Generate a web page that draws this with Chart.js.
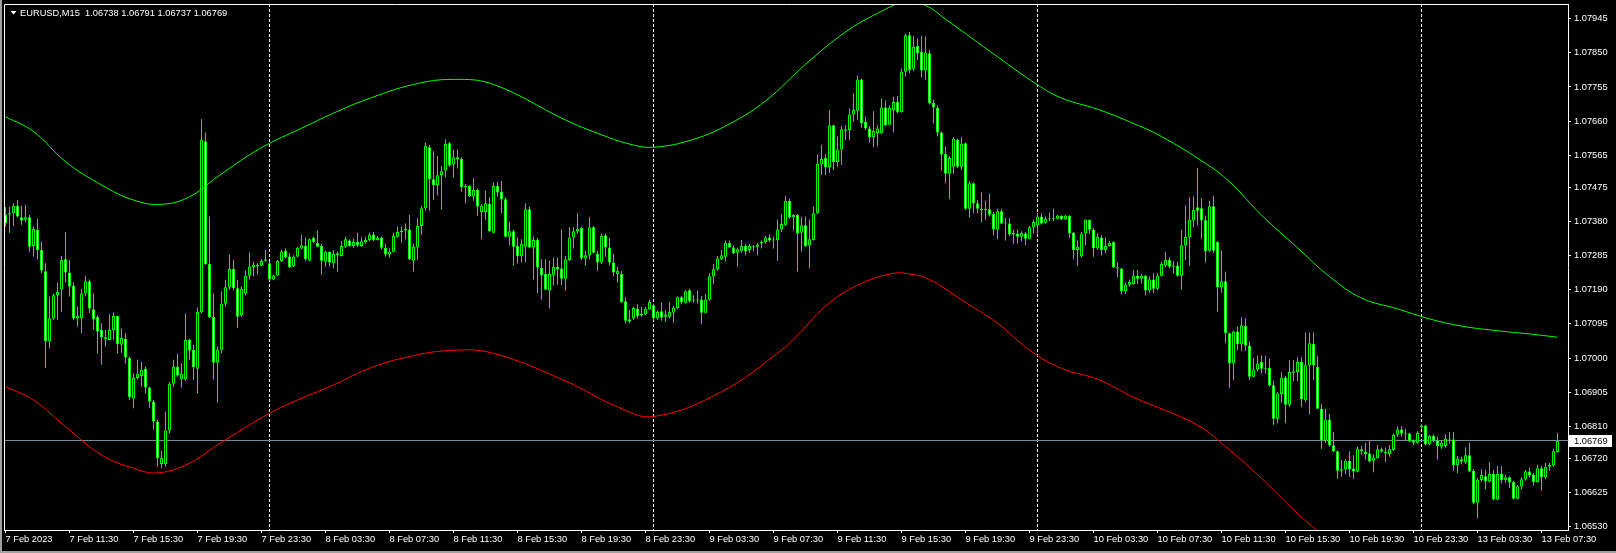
<!DOCTYPE html>
<html>
<head>
<meta charset="utf-8">
<title>EURUSD,M15</title>
<script src="https://cdn.jsdelivr.net/npm/chart.js@4.4.1/dist/chart.umd.min.js"></script>
<style>
  html, body { margin: 0; padding: 0; background: #000; }
  canvas { display: block; }
</style>
</head>
<body>
<canvas id="chart" width="1616" height="553"></canvas>
<script>
// EURUSD M15 candles, bar 0 = 7 Feb 2023 07:30 ... bar 388 = 13 Feb 08:30
const opens = [
  1.07400, 1.07400, 1.07403, 1.07424, 1.07392, 1.07385, 1.07392, 1.07312, 1.07357, 1.07301,
  1.07242, 1.07047, 1.07110, 1.07175, 1.07191, 1.07275, 1.07238, 1.07201, 1.07110, 1.07111,
  1.07180, 1.07214, 1.07136, 1.07114, 1.07078, 1.07058, 1.07050, 1.07078, 1.07117, 1.07037,
  1.07054, 1.07000, 1.06887, 1.06944, 1.06950, 1.06970, 1.06918, 1.06879, 1.06823, 1.06705,
  1.06705, 1.06798, 1.06928, 1.06976, 1.06941, 1.06941, 1.07050, 1.07023, 1.06970, 1.07128,
  1.07604, 1.07262, 1.07114, 1.06987, 1.07023, 1.07151, 1.07197, 1.07248, 1.07194, 1.07119,
  1.07180, 1.07229, 1.07253, 1.07255, 1.07257, 1.07271, 1.07264, 1.07219, 1.07230, 1.07270,
  1.07299, 1.07283, 1.07255, 1.07283, 1.07305, 1.07312, 1.07271, 1.07334, 1.07320, 1.07312,
  1.07268, 1.07296, 1.07264, 1.07286, 1.07284, 1.07310, 1.07327, 1.07312, 1.07323, 1.07312,
  1.07322, 1.07329, 1.07344, 1.07329, 1.07336, 1.07307, 1.07288, 1.07296, 1.07338, 1.07351,
  1.07355, 1.07358, 1.07271, 1.07308, 1.07368, 1.07417, 1.07587, 1.07498, 1.07481, 1.07509,
  1.07522, 1.07598, 1.07539, 1.07559, 1.07554, 1.07479, 1.07479, 1.07450, 1.07468, 1.07407,
  1.07407, 1.07429, 1.07349, 1.07479, 1.07463, 1.07442, 1.07338, 1.07353, 1.07312, 1.07284,
  1.07310, 1.07414, 1.07308, 1.07329, 1.07251, 1.07234, 1.07188, 1.07230, 1.07254, 1.07249,
  1.07221, 1.07273, 1.07336, 1.07353, 1.07362, 1.07277, 1.07286, 1.07364, 1.07290, 1.07266,
  1.07342, 1.07308, 1.07266, 1.07234, 1.07234, 1.07158, 1.07108, 1.07110, 1.07137, 1.07119,
  1.07121, 1.07136, 1.07147, 1.07111, 1.07130, 1.07115, 1.07115, 1.07126, 1.07139, 1.07169,
  1.07154, 1.07189, 1.07160, 1.07163, 1.07162, 1.07126, 1.07162, 1.07227, 1.07247, 1.07275,
  1.07282, 1.07320, 1.07308, 1.07293, 1.07299, 1.07312, 1.07301, 1.07310, 1.07310, 1.07320,
  1.07323, 1.07336, 1.07327, 1.07329, 1.07358, 1.07371, 1.07438, 1.07392, 1.07398, 1.07349,
  1.07370, 1.07314, 1.07329, 1.07403, 1.07539, 1.07557, 1.07531, 1.07648, 1.07546, 1.07581,
  1.07633, 1.07635, 1.07678, 1.07689, 1.07776, 1.07658, 1.07639, 1.07615, 1.07626, 1.07626,
  1.07698, 1.07650, 1.07691, 1.07713, 1.07685, 1.07797, 1.07899, 1.07806, 1.07869, 1.07853,
  1.07801, 1.07849, 1.07710, 1.07697, 1.07628, 1.07568, 1.07513, 1.07533, 1.07607, 1.07533,
  1.07598, 1.07416, 1.07487, 1.07431, 1.07416, 1.07412, 1.07414, 1.07401, 1.07358, 1.07409,
  1.07375, 1.07375, 1.07344, 1.07347, 1.07338, 1.07347, 1.07332, 1.07364, 1.07370, 1.07394,
  1.07377, 1.07386, 1.07388, 1.07388, 1.07396, 1.07386, 1.07396, 1.07349, 1.07301, 1.07284,
  1.07347, 1.07385, 1.07357, 1.07306, 1.07336, 1.07301, 1.07312, 1.07323, 1.07253, 1.07249,
  1.07186, 1.07204, 1.07206, 1.07229, 1.07221, 1.07229, 1.07188, 1.07219, 1.07193, 1.07229,
  1.07258, 1.07273, 1.07254, 1.07258, 1.07229, 1.07314, 1.07336, 1.07383, 1.07420, 1.07417,
  1.07384, 1.07299, 1.07423, 1.07323, 1.07197, 1.07214, 1.07069, 1.06985, 1.07074, 1.07039,
  1.07089, 1.07035, 1.06948, 1.06968, 1.06989, 1.06972, 1.06972, 1.06924, 1.06831, 1.06900,
  1.06946, 1.06870, 1.06959, 1.06961, 1.06989, 1.06883, 1.06980, 1.07039, 1.06976, 1.06859,
  1.06770, 1.06829, 1.06757, 1.06740, 1.06690, 1.06690, 1.06714, 1.06692, 1.06684, 1.06746,
  1.06738, 1.06734, 1.06714, 1.06721, 1.06746, 1.06738, 1.06733, 1.06744, 1.06786, 1.06801,
  1.06790, 1.06790, 1.06770, 1.06764, 1.06807, 1.06812, 1.06760, 1.06783, 1.06770, 1.06753,
  1.06755, 1.06775, 1.06773, 1.06701, 1.06718, 1.06710, 1.06729, 1.06686, 1.06597, 1.06660,
  1.06671, 1.06656, 1.06677, 1.06606, 1.06677, 1.06660, 1.06668, 1.06655, 1.06608, 1.06642,
  1.06662, 1.06684, 1.06675, 1.06655, 1.06693, 1.06668, 1.06697, 1.06701, 1.06738
];
const highs = [
  1.07420, 1.07422, 1.07431, 1.07440, 1.07424, 1.07426, 1.07398, 1.07366, 1.07388, 1.07324,
  1.07264, 1.07171, 1.07180, 1.07210, 1.07284, 1.07351, 1.07273, 1.07210, 1.07143, 1.07193,
  1.07229, 1.07219, 1.07180, 1.07119, 1.07097, 1.07078, 1.07122, 1.07127, 1.07117, 1.07082,
  1.07069, 1.07004, 1.06957, 1.06995, 1.06989, 1.06976, 1.06920, 1.06883, 1.06828, 1.06742,
  1.06851, 1.06933, 1.06995, 1.07011, 1.06985, 1.07123, 1.07054, 1.07036, 1.07141, 1.07665,
  1.07628, 1.07394, 1.07180, 1.07032, 1.07186, 1.07218, 1.07288, 1.07273, 1.07218, 1.07199,
  1.07244, 1.07294, 1.07268, 1.07264, 1.07275, 1.07301, 1.07268, 1.07232, 1.07273, 1.07301,
  1.07306, 1.07292, 1.07286, 1.07310, 1.07343, 1.07336, 1.07333, 1.07338, 1.07355, 1.07318,
  1.07299, 1.07297, 1.07301, 1.07297, 1.07325, 1.07338, 1.07331, 1.07333, 1.07349, 1.07336,
  1.07338, 1.07349, 1.07351, 1.07340, 1.07338, 1.07318, 1.07305, 1.07349, 1.07366, 1.07366,
  1.07375, 1.07398, 1.07318, 1.07389, 1.07424, 1.07600, 1.07593, 1.07576, 1.07563, 1.07535,
  1.07609, 1.07602, 1.07580, 1.07581, 1.07559, 1.07485, 1.07481, 1.07501, 1.07472, 1.07429,
  1.07466, 1.07448, 1.07489, 1.07490, 1.07493, 1.07448, 1.07379, 1.07358, 1.07336, 1.07331,
  1.07431, 1.07422, 1.07338, 1.07334, 1.07275, 1.07275, 1.07271, 1.07280, 1.07280, 1.07358,
  1.07284, 1.07364, 1.07364, 1.07403, 1.07366, 1.07299, 1.07392, 1.07368, 1.07299, 1.07347,
  1.07347, 1.07334, 1.07290, 1.07254, 1.07243, 1.07169, 1.07134, 1.07143, 1.07150, 1.07143,
  1.07143, 1.07162, 1.07150, 1.07132, 1.07154, 1.07134, 1.07156, 1.07145, 1.07171, 1.07173,
  1.07189, 1.07193, 1.07175, 1.07188, 1.07173, 1.07178, 1.07236, 1.07262, 1.07284, 1.07301,
  1.07327, 1.07327, 1.07314, 1.07308, 1.07329, 1.07318, 1.07318, 1.07314, 1.07320, 1.07327,
  1.07340, 1.07345, 1.07338, 1.07386, 1.07401, 1.07451, 1.07444, 1.07401, 1.07401, 1.07392,
  1.07394, 1.07385, 1.07422, 1.07566, 1.07594, 1.07568, 1.07691, 1.07650, 1.07617, 1.07646,
  1.07648, 1.07695, 1.07737, 1.07786, 1.07778, 1.07672, 1.07646, 1.07687, 1.07648, 1.07723,
  1.07717, 1.07704, 1.07728, 1.07730, 1.07806, 1.07903, 1.07908, 1.07897, 1.07890, 1.07897,
  1.07895, 1.07858, 1.07719, 1.07704, 1.07630, 1.07589, 1.07561, 1.07615, 1.07611, 1.07615,
  1.07600, 1.07492, 1.07489, 1.07440, 1.07461, 1.07437, 1.07457, 1.07407, 1.07416, 1.07416,
  1.07390, 1.07390, 1.07357, 1.07358, 1.07353, 1.07351, 1.07368, 1.07385, 1.07403, 1.07403,
  1.07394, 1.07405, 1.07416, 1.07399, 1.07397, 1.07399, 1.07397, 1.07351, 1.07327, 1.07351,
  1.07386, 1.07386, 1.07362, 1.07347, 1.07342, 1.07336, 1.07325, 1.07325, 1.07266, 1.07251,
  1.07210, 1.07219, 1.07245, 1.07245, 1.07234, 1.07232, 1.07227, 1.07236, 1.07236, 1.07268,
  1.07295, 1.07280, 1.07269, 1.07269, 1.07357, 1.07425, 1.07448, 1.07450, 1.07529, 1.07445,
  1.07396, 1.07438, 1.07451, 1.07325, 1.07299, 1.07240, 1.07071, 1.07076, 1.07087, 1.07113,
  1.07110, 1.07046, 1.07000, 1.07007, 1.07007, 1.07006, 1.06998, 1.06937, 1.06905, 1.06961,
  1.06950, 1.06994, 1.06994, 1.07002, 1.07002, 1.07072, 1.07071, 1.07071, 1.07006, 1.06872,
  1.06859, 1.06844, 1.06794, 1.06742, 1.06716, 1.06718, 1.06740, 1.06729, 1.06753, 1.06755,
  1.06764, 1.06770, 1.06731, 1.06757, 1.06751, 1.06751, 1.06757, 1.06790, 1.06809, 1.06810,
  1.06803, 1.06792, 1.06773, 1.06796, 1.06816, 1.06814, 1.06785, 1.06786, 1.06781, 1.06771,
  1.06788, 1.06794, 1.06794, 1.06727, 1.06725, 1.06751, 1.06764, 1.06690, 1.06666, 1.06690,
  1.06688, 1.06710, 1.06688, 1.06699, 1.06699, 1.06675, 1.06671, 1.06658, 1.06647, 1.06668,
  1.06688, 1.06695, 1.06680, 1.06703, 1.06699, 1.06708, 1.06708, 1.06747, 1.06791
];
const lows = [
  1.07366, 1.07349, 1.07368, 1.07392, 1.07371, 1.07379, 1.07296, 1.07283, 1.07275, 1.07236,
  1.06973, 1.07027, 1.07106, 1.07106, 1.07128, 1.07210, 1.07171, 1.07106, 1.07088, 1.07069,
  1.07171, 1.07125, 1.07078, 1.07013, 1.06981, 1.07032, 1.07050, 1.07050, 1.07013, 1.07015,
  1.06985, 1.06883, 1.06860, 1.06941, 1.06920, 1.06902, 1.06860, 1.06800, 1.06697, 1.06693,
  1.06697, 1.06790, 1.06920, 1.06948, 1.06918, 1.06937, 1.06995, 1.06939, 1.06902, 1.07125,
  1.07260, 1.07112, 1.06941, 1.06876, 1.07013, 1.07143, 1.07191, 1.07188, 1.07084, 1.07115,
  1.07175, 1.07219, 1.07227, 1.07232, 1.07257, 1.07268, 1.07218, 1.07218, 1.07229, 1.07268,
  1.07277, 1.07251, 1.07253, 1.07281, 1.07303, 1.07271, 1.07270, 1.07320, 1.07310, 1.07232,
  1.07255, 1.07255, 1.07250, 1.07240, 1.07283, 1.07307, 1.07310, 1.07307, 1.07309, 1.07310,
  1.07318, 1.07325, 1.07325, 1.07327, 1.07303, 1.07283, 1.07281, 1.07294, 1.07336, 1.07321,
  1.07331, 1.07273, 1.07241, 1.07273, 1.07343, 1.07410, 1.07410, 1.07440, 1.07454, 1.07414,
  1.07503, 1.07533, 1.07503, 1.07528, 1.07463, 1.07431, 1.07448, 1.07438, 1.07396, 1.07331,
  1.07385, 1.07351, 1.07347, 1.07450, 1.07403, 1.07336, 1.07314, 1.07258, 1.07264, 1.07266,
  1.07266, 1.07306, 1.07219, 1.07180, 1.07163, 1.07189, 1.07138, 1.07202, 1.07204, 1.07202,
  1.07188, 1.07271, 1.07305, 1.07347, 1.07273, 1.07258, 1.07275, 1.07292, 1.07243, 1.07262,
  1.07282, 1.07258, 1.07228, 1.07210, 1.07154, 1.07097, 1.07097, 1.07106, 1.07110, 1.07115,
  1.07119, 1.07134, 1.07106, 1.07106, 1.07104, 1.07101, 1.07111, 1.07098, 1.07137, 1.07150,
  1.07152, 1.07154, 1.07154, 1.07152, 1.07095, 1.07124, 1.07160, 1.07206, 1.07243, 1.07273,
  1.07269, 1.07307, 1.07290, 1.07254, 1.07293, 1.07286, 1.07293, 1.07297, 1.07286, 1.07305,
  1.07318, 1.07323, 1.07305, 1.07271, 1.07351, 1.07368, 1.07388, 1.07355, 1.07241, 1.07297,
  1.07310, 1.07250, 1.07327, 1.07401, 1.07510, 1.07510, 1.07515, 1.07524, 1.07533, 1.07538,
  1.07607, 1.07607, 1.07658, 1.07663, 1.07641, 1.07635, 1.07600, 1.07587, 1.07590, 1.07624,
  1.07646, 1.07648, 1.07628, 1.07682, 1.07684, 1.07784, 1.07793, 1.07799, 1.07830, 1.07782,
  1.07775, 1.07706, 1.07654, 1.07617, 1.07522, 1.07489, 1.07442, 1.07513, 1.07529, 1.07524,
  1.07412, 1.07392, 1.07403, 1.07403, 1.07379, 1.07385, 1.07394, 1.07342, 1.07331, 1.07373,
  1.07327, 1.07340, 1.07318, 1.07319, 1.07325, 1.07314, 1.07331, 1.07347, 1.07347, 1.07372,
  1.07375, 1.07381, 1.07381, 1.07386, 1.07385, 1.07385, 1.07334, 1.07275, 1.07256, 1.07280,
  1.07314, 1.07347, 1.07282, 1.07301, 1.07286, 1.07292, 1.07310, 1.07251, 1.07225, 1.07178,
  1.07178, 1.07199, 1.07204, 1.07206, 1.07208, 1.07175, 1.07182, 1.07182, 1.07189, 1.07227,
  1.07253, 1.07249, 1.07236, 1.07227, 1.07191, 1.07273, 1.07256, 1.07364, 1.07370, 1.07332,
  1.07266, 1.07295, 1.07292, 1.07129, 1.07182, 1.07041, 1.06917, 1.06939, 1.07022, 1.07020,
  1.07020, 1.06939, 1.06946, 1.06963, 1.06957, 1.06957, 1.06920, 1.06814, 1.06818, 1.06876,
  1.06818, 1.06864, 1.06935, 1.06935, 1.06863, 1.06877, 1.06844, 1.06939, 1.06859, 1.06747,
  1.06764, 1.06753, 1.06738, 1.06664, 1.06669, 1.06677, 1.06669, 1.06664, 1.06682, 1.06731,
  1.06718, 1.06710, 1.06682, 1.06720, 1.06736, 1.06710, 1.06725, 1.06742, 1.06781, 1.06781,
  1.06771, 1.06766, 1.06757, 1.06762, 1.06803, 1.06757, 1.06757, 1.06766, 1.06718, 1.06747,
  1.06751, 1.06762, 1.06686, 1.06680, 1.06705, 1.06705, 1.06682, 1.06593, 1.06554, 1.06655,
  1.06634, 1.06653, 1.06604, 1.06604, 1.06651, 1.06653, 1.06638, 1.06606, 1.06606, 1.06634,
  1.06658, 1.06668, 1.06645, 1.06653, 1.06630, 1.06662, 1.06686, 1.06697, 1.06737
];
const closes = [
  1.07375, 1.07403, 1.07424, 1.07394, 1.07383, 1.07392, 1.07310, 1.07359, 1.07301, 1.07244,
  1.07047, 1.07111, 1.07175, 1.07184, 1.07273, 1.07238, 1.07199, 1.07110, 1.07117, 1.07180,
  1.07214, 1.07138, 1.07108, 1.07074, 1.07058, 1.07052, 1.07078, 1.07117, 1.07039, 1.07056,
  1.07002, 1.06891, 1.06944, 1.06956, 1.06967, 1.06918, 1.06879, 1.06823, 1.06721, 1.06722,
  1.06798, 1.06928, 1.06976, 1.06952, 1.06956, 1.07050, 1.07021, 1.06974, 1.07128, 1.07608,
  1.07262, 1.07114, 1.06987, 1.07023, 1.07151, 1.07197, 1.07248, 1.07194, 1.07115, 1.07193,
  1.07229, 1.07255, 1.07260, 1.07260, 1.07270, 1.07275, 1.07219, 1.07230, 1.07270, 1.07297,
  1.07281, 1.07253, 1.07283, 1.07307, 1.07314, 1.07275, 1.07331, 1.07323, 1.07310, 1.07271,
  1.07296, 1.07266, 1.07290, 1.07292, 1.07312, 1.07331, 1.07312, 1.07323, 1.07314, 1.07325,
  1.07329, 1.07344, 1.07329, 1.07336, 1.07307, 1.07288, 1.07296, 1.07340, 1.07351, 1.07355,
  1.07360, 1.07275, 1.07310, 1.07368, 1.07417, 1.07591, 1.07498, 1.07481, 1.07509, 1.07520,
  1.07596, 1.07537, 1.07559, 1.07554, 1.07476, 1.07476, 1.07451, 1.07468, 1.07422, 1.07424,
  1.07431, 1.07353, 1.07479, 1.07461, 1.07442, 1.07338, 1.07353, 1.07310, 1.07284, 1.07318,
  1.07414, 1.07308, 1.07329, 1.07253, 1.07230, 1.07191, 1.07234, 1.07254, 1.07247, 1.07221,
  1.07275, 1.07336, 1.07353, 1.07360, 1.07277, 1.07286, 1.07364, 1.07293, 1.07266, 1.07340,
  1.07308, 1.07266, 1.07238, 1.07243, 1.07156, 1.07104, 1.07102, 1.07139, 1.07117, 1.07123,
  1.07137, 1.07156, 1.07111, 1.07128, 1.07113, 1.07121, 1.07128, 1.07141, 1.07169, 1.07156,
  1.07186, 1.07158, 1.07163, 1.07160, 1.07126, 1.07163, 1.07228, 1.07247, 1.07277, 1.07286,
  1.07321, 1.07308, 1.07292, 1.07303, 1.07312, 1.07297, 1.07312, 1.07312, 1.07316, 1.07323,
  1.07336, 1.07327, 1.07329, 1.07358, 1.07373, 1.07438, 1.07392, 1.07398, 1.07347, 1.07370,
  1.07312, 1.07331, 1.07403, 1.07541, 1.07554, 1.07531, 1.07648, 1.07546, 1.07581, 1.07637,
  1.07637, 1.07678, 1.07691, 1.07776, 1.07654, 1.07639, 1.07615, 1.07632, 1.07639, 1.07698,
  1.07648, 1.07697, 1.07713, 1.07685, 1.07797, 1.07899, 1.07802, 1.07867, 1.07849, 1.07801,
  1.07851, 1.07710, 1.07698, 1.07628, 1.07567, 1.07513, 1.07557, 1.07611, 1.07533, 1.07596,
  1.07416, 1.07487, 1.07431, 1.07416, 1.07412, 1.07416, 1.07399, 1.07358, 1.07409, 1.07375,
  1.07377, 1.07344, 1.07349, 1.07338, 1.07349, 1.07332, 1.07364, 1.07379, 1.07394, 1.07375,
  1.07388, 1.07388, 1.07390, 1.07397, 1.07386, 1.07396, 1.07347, 1.07301, 1.07310, 1.07347,
  1.07385, 1.07357, 1.07306, 1.07338, 1.07301, 1.07312, 1.07321, 1.07253, 1.07249, 1.07186,
  1.07204, 1.07212, 1.07229, 1.07221, 1.07229, 1.07188, 1.07219, 1.07193, 1.07229, 1.07262,
  1.07273, 1.07254, 1.07258, 1.07229, 1.07314, 1.07338, 1.07385, 1.07412, 1.07410, 1.07383,
  1.07297, 1.07423, 1.07299, 1.07197, 1.07214, 1.07069, 1.06985, 1.07074, 1.07039, 1.07091,
  1.07035, 1.06948, 1.06968, 1.06985, 1.06970, 1.06970, 1.06924, 1.06831, 1.06901, 1.06946,
  1.06870, 1.06961, 1.06963, 1.06989, 1.06885, 1.06980, 1.07041, 1.06980, 1.06859, 1.06771,
  1.06829, 1.06757, 1.06740, 1.06686, 1.06686, 1.06714, 1.06690, 1.06684, 1.06747, 1.06740,
  1.06733, 1.06712, 1.06723, 1.06746, 1.06740, 1.06734, 1.06746, 1.06786, 1.06801, 1.06790,
  1.06788, 1.06768, 1.06764, 1.06792, 1.06812, 1.06760, 1.06783, 1.06771, 1.06755, 1.06764,
  1.06775, 1.06773, 1.06701, 1.06720, 1.06712, 1.06729, 1.06684, 1.06597, 1.06660, 1.06675,
  1.06656, 1.06677, 1.06606, 1.06677, 1.06660, 1.06668, 1.06653, 1.06608, 1.06643, 1.06662,
  1.06684, 1.06673, 1.06655, 1.06693, 1.06668, 1.06697, 1.06703, 1.06740, 1.06769
];

// time axis: one label every 16 bars (4 hours)
const labelStep = 16;
const timeLabels = [
  '7 Feb 2023', '7 Feb 11:30', '7 Feb 15:30', '7 Feb 19:30', '7 Feb 23:30',
  '8 Feb 03:30', '8 Feb 07:30', '8 Feb 11:30', '8 Feb 15:30', '8 Feb 19:30',
  '8 Feb 23:30', '9 Feb 03:30', '9 Feb 07:30', '9 Feb 11:30', '9 Feb 15:30',
  '9 Feb 19:30', '9 Feb 23:30', '10 Feb 03:30', '10 Feb 07:30', '10 Feb 11:30',
  '10 Feb 15:30', '10 Feb 19:30', '10 Feb 23:30', '13 Feb 03:30', '13 Feb 07:30'
];
// first bar of each new day -> period separators
const dayStarts = [66, 162, 258, 354];

// price scale labels as the terminal prints them
const priceTicks = [
  1.07945, 1.07850, 1.07755, 1.07660, 1.07565, 1.07475, 1.07380, 1.07285,
  1.07190, 1.07095, 1.07000, 1.06905, 1.06810, 1.06720, 1.06625, 1.06530
];

// upper (green) and lower (red) band
const upperIdx = [0, 7, 15, 24, 32, 39, 46, 53, 61, 66, 74, 82, 90, 102, 112, 122, 140, 148, 156, 162, 172, 181, 190, 200, 210, 218, 225, 230, 235, 248, 258, 264, 273, 281, 289, 300, 306, 314, 323, 331, 339, 348, 356, 364, 373, 381, 388];
const upperVal = [1.07672, 1.07631, 1.07547, 1.07482, 1.07440, 1.07428, 1.07449, 1.07505, 1.07566, 1.07598, 1.07640, 1.07682, 1.07719, 1.07762, 1.07776, 1.07762, 1.07663, 1.07626, 1.07596, 1.07587, 1.07609, 1.07652, 1.07716, 1.07818, 1.07908, 1.07960, 1.07992, 1.07982, 1.07944, 1.07839, 1.07761, 1.07724, 1.07693, 1.07658, 1.07617, 1.07542, 1.07491, 1.07398, 1.07307, 1.07227, 1.07167, 1.07137, 1.07109, 1.07089, 1.07076, 1.07067, 1.07058];
const lowerIdx = [0, 7, 15, 24, 32, 38, 46, 53, 66, 74, 82, 90, 99, 111, 122, 140, 153, 162, 179, 194, 198, 206, 214, 222, 226, 231, 239, 248, 256, 264, 273, 282, 298, 306, 314, 323, 330];
const lowerVal = [1.06920, 1.06883, 1.06809, 1.06730, 1.06693, 1.06680, 1.06707, 1.06758, 1.06846, 1.06888, 1.06925, 1.06967, 1.06999, 1.07021, 1.07013, 1.06936, 1.06864, 1.06837, 1.06906, 1.07022, 1.07064, 1.07154, 1.07208, 1.07236, 1.07234, 1.07219, 1.07162, 1.07097, 1.07022, 1.06971, 1.06941, 1.06891, 1.06813, 1.06744, 1.06665, 1.06567, 1.06500];

const symbolTitle = 'EURUSD,M15';

const uiFont = 'Liberation Sans, Arial, sans-serif';
const lastClose = closes[closes.length - 1];
const headerText = symbolTitle + '  ' + [opens, highs, lows, closes].map(a => a[a.length - 1].toFixed(5)).join(' ');

// MetaTrader look: black window, white frame, separators, bid line, header
const terminalDecor = {
    id: 'terminalDecor',
    beforeDraw(chart) {
        const ctx = chart.ctx;
        ctx.save();
        ctx.fillStyle = '#000000';
        ctx.fillRect(0, 0, chart.width, chart.height);
        ctx.fillStyle = '#a0a0a0';
        ctx.fillRect(0, 0, 2, chart.height);
        ctx.fillRect(0, chart.height - 2, chart.width, 2);
        ctx.restore();
    },
    beforeDatasetsDraw(chart) {
        const { ctx, chartArea: area, scales } = chart;
        ctx.save();
        ctx.lineWidth = 1;
        // day separators
        ctx.strokeStyle = '#ffffff';
        ctx.setLineDash([3, 2]);
        dayStarts.forEach(function (i) {
            const px = Math.floor(scales.x.getPixelForValue(i)) + 0.5;
            ctx.beginPath();
            ctx.moveTo(px, area.top);
            ctx.lineTo(px, area.bottom);
            ctx.stroke();
        });
        // bid line
        ctx.setLineDash([]);
        ctx.strokeStyle = '#778899';
        const py = Math.floor(scales.y.getPixelForValue(lastClose)) + 0.5;
        ctx.beginPath();
        ctx.moveTo(area.left, py);
        ctx.lineTo(area.right, py);
        ctx.stroke();
        ctx.restore();
    },
    afterDraw(chart) {
        const { ctx, chartArea: area, scales } = chart;
        ctx.save();
        // top and left edge of the frame
        ctx.strokeStyle = '#ffffff';
        ctx.lineWidth = 1;
        ctx.beginPath();
        ctx.moveTo(area.left + 0.5, area.bottom);
        ctx.lineTo(area.left + 0.5, area.top + 0.5);
        ctx.lineTo(area.right, area.top + 0.5);
        ctx.stroke();

        // header: small triangle + symbol and last bar OHLC
        ctx.fillStyle = '#ffffff';
        ctx.beginPath();
        ctx.moveTo(10.5, 11);
        ctx.lineTo(16.5, 11);
        ctx.lineTo(13.5, 14.5);
        ctx.closePath();
        ctx.fill();
        ctx.font = '9.3px ' + uiFont;
        ctx.textBaseline = 'alphabetic';
        ctx.textAlign = 'left';
        ctx.fillText(headerText, 20, 16);

        // current price tag on the price scale
        const py = Math.floor(scales.y.getPixelForValue(lastClose));
        ctx.fillStyle = '#ffffff';
        ctx.fillRect(area.right + 1, py - 5, 43, 12);
        ctx.fillStyle = '#000000';
        ctx.textBaseline = 'middle';
        ctx.fillText(lastClose.toFixed(5), area.right + 6, py + 1);
        ctx.restore();
    }
};

const ctx = document.getElementById('chart').getContext('2d');
const barIdx = closes.map((_, i) => i);

const chart = new Chart(ctx, {
    type: 'bar',
    data: {
        datasets: [
            {
                type: 'line',
                label: 'Upper band',
                data: upperIdx.map((x, k) => ({ x: x, y: upperVal[k] })),
                borderColor: '#00ff00',
                borderWidth: 1,
                pointRadius: 0,
                tension: 0.4,
                order: 0
            },
            {
                type: 'line',
                label: 'Lower band',
                data: lowerIdx.map((x, k) => ({ x: x, y: lowerVal[k] })),
                borderColor: '#ff0000',
                borderWidth: 1,
                pointRadius: 0,
                tension: 0.4,
                order: 0
            },
            {
                label: 'Body',
                data: barIdx.map(i => ({ x: i, y: [opens[i], closes[i]] })),
                backgroundColor: barIdx.map(i => closes[i] >= opens[i] ? '#000000' : '#ffffff'),
                borderColor: '#00ff00',
                borderWidth: 1,
                borderSkipped: false,
                barThickness: 3,
                maxBarThickness: 3,
                minBarLength: 1,
                inflateAmount: 0,
                grouped: false,
                order: 1
            },
            {
                label: 'Wick',
                data: barIdx.map(i => ({ x: i, y: [lows[i], highs[i]] })),
                backgroundColor: '#00ff00',
                borderWidth: 0,
                barThickness: 1,
                maxBarThickness: 1,
                inflateAmount: 0,
                grouped: false,
                order: 2
            }
        ]
    },
    options: {
        responsive: false,
        devicePixelRatio: 1,
        animation: false,
        events: [],
        layout: { padding: { left: 4, top: 4, right: 0, bottom: 0 } },
        plugins: {
            legend: { display: false },
            tooltip: { enabled: false },
            title: { display: false }
        },
        scales: {
            x: {
                type: 'linear',
                min: -0.375,
                max: 390.625,
                offset: false,
                afterBuildTicks: scale => {
                    scale.ticks = timeLabels.map((_, k) => ({ value: k * labelStep }));
                },
                afterFit: scale => {
                    scale.height = 23;
                    scale.paddingLeft = 0;
                    scale.paddingRight = 0;
                },
                grid: { drawOnChartArea: false, offset: false, tickLength: 3, tickColor: '#ffffff' },
                border: { display: true, color: '#ffffff', width: 1 },
                ticks: {
                    autoSkip: false,
                    maxRotation: 0,
                    minRotation: 0,
                    align: 'start',
                    padding: 1,
                    color: '#ffffff',
                    font: { family: uiFont, size: 9.3 },
                    callback: v => timeLabels[Math.round(v / labelStep)]
                }
            },
            y: {
                type: 'linear',
                position: 'right',
                min: 1.06521,
                max: 1.07986,
                afterBuildTicks: scale => {
                    scale.ticks = priceTicks.map(v => ({ value: v }));
                },
                afterFit: scale => {
                    scale.width = 48;
                    scale.paddingTop = 0;
                    scale.paddingBottom = 0;
                },
                grid: { drawOnChartArea: false, tickLength: 3, tickColor: '#ffffff' },
                border: { display: true, color: '#ffffff', width: 1 },
                ticks: {
                    autoSkip: false,
                    padding: 3,
                    color: '#ffffff',
                    font: { family: uiFont, size: 9.3 },
                    callback: v => v.toFixed(5)
                }
            }
        }
    },
    plugins: [terminalDecor]
});
</script>
</body>
</html>
